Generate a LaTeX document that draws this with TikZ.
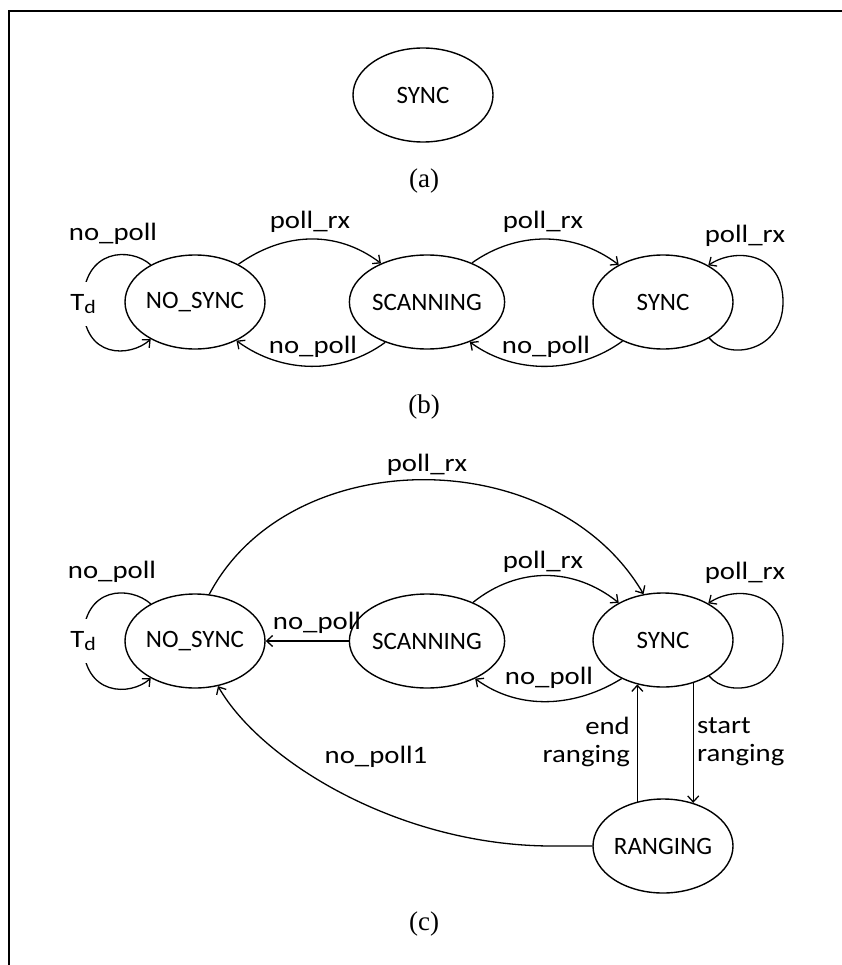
\documentclass[tikz,border=0pt]{standalone}
\usepackage{fontspec}
\setmainfont{Carlito}
\newfontfamily\lblfont{Carlito}[FakeStretch=1.15]
\newfontfamily\capfont{Liberation Serif}
\usetikzlibrary{shapes.geometric,arrows.meta}
\begin{document}
\begin{tikzpicture}[x=1pt,y=-1pt,
 state/.style={draw,ellipse,line width=1.4pt,minimum width=140pt,minimum height=94pt,inner sep=0pt,font=\fontsize{25}{25}\selectfont},
 lbl/.style={font=\lblfont\fontsize{25}{28}\selectfont,inner sep=1pt},
 tdl/.style={fill=white,font=\lblfont\fontsize{25}{28}\selectfont,minimum height=44pt,inner xsep=1pt,inner ysep=0pt},
 capt/.style={font=\capfont\fontsize{27}{27}\selectfont},
 tr/.style={line width=1.3pt,-{Straight Barb[length=6pt,width=11pt]}}]
\useasboundingbox (0,0) rectangle (842,965);
\draw[line width=1.5pt] (9,965) -- (9,11) -- (842,11);
% (a)
\node[state] (sa) at (423,95) {SYNC};
\node[capt] (ca) at (424,181) {(a)};
% (b)
\node[state] (nb) at (195,302) {NO\_SYNC};
\node[state] (scb) at (427,302) {SCANNING};
\node[state] (syb) at (663,302) {SYNC};
\draw[tr] (nb.41) .. controls +(45,-32) and +(-45,-34) .. (scb.140);
\draw[tr] (scb.41) .. controls +(45,-32) and +(-45,-34) .. (syb.140);
\draw[tr] (scb.224) .. controls +(-45,33) and +(45,33) .. (nb.317);
\draw[tr] (syb.224) .. controls +(-45,33) and +(45,33) .. (scb.317);
\coordinate (tdb) at (83,304);
\draw[tr] (nb.140) .. controls +(-20,-18) and +(0,-56) .. (tdb) .. controls +(0,56) and +(-20,18) .. (nb.220);
\node[tdl] (tdbl) at (tdb) {T\raisebox{-0.3ex}{\fontsize{19}{19}\selectfont d}};
\coordinate (syrb) at (783,302);
\draw[tr] (syb.322) .. controls +(19,23) and +(0,50) .. (syrb) .. controls +(0,-50) and +(27,-18) .. (syb.39);
\node[lbl] (lb1) at (113,234) {no\_poll};
\node[lbl] (lb2) at (310,222) {poll\_rx};
\node[lbl] (lb3) at (543,222) {poll\_rx};
\node[lbl] (lb4) at (745,236) {poll\_rx};
\node[lbl] (lb5) at (313,347) {no\_poll};
\node[lbl] (lb6) at (546,347) {no\_poll};
\node[capt] (cb) at (424,407) {(b)};
% (c)
\node[state] (nc) at (195,641) {NO\_SYNC};
\node[state] (scc) at (427,641) {SCANNING};
\node[state] (syc) at (663,640) {SYNC};
\node[state] (rgc) at (663,846) {RANGING};
\draw[tr] (nc.73) .. controls +(80,-152) and +(-90,-153) .. (syc.113);
\draw[tr] (scc.40) .. controls +(45,-36) and +(-45,-36) .. (syc.140);
\draw[tr] (syc.223) .. controls +(-45,28) and +(45,33) .. (scc.322);
\draw[tr] (scc.west) -- (nc.east);
\coordinate (tdc) at (83,641);
\draw[tr] (nc.140) .. controls +(-20,-18) and +(0,-56) .. (tdc) .. controls +(0,56) and +(-20,18) .. (nc.220);
\node[tdl] (tdcl) at (tdc) {T\raisebox{-0.3ex}{\fontsize{19}{19}\selectfont d}};
\coordinate (syrc) at (783,640);
\draw[tr] (syc.322) .. controls +(19,23) and +(0,50) .. (syrc) .. controls +(0,-50) and +(27,-18) .. (syc.39);
\draw[tr] (rgc.120) -- (syc.240);
\draw[tr] (syc.305) -- (rgc.55);
\draw[tr] (rgc.west) -- ++(-40,0) .. controls +(-153,0) and +(43,75) .. (nc.297);
\node[lbl] (lc1) at (427,465) {poll\_rx};
\node[lbl] (lc2) at (543,562) {poll\_rx};
\node[lbl] (lc3) at (112,572) {no\_poll};
\node[lbl] (lc4) at (745,573) {poll\_rx};
\node[lbl] (lc5) at (317,623) {no\_poll};
\node[lbl] (lc6) at (549,678) {no\_poll};
\node[lbl,align=right,anchor=east] (lc7) at (631,742) {end\\ranging};
\node[lbl,align=left,anchor=west] (lc8) at (696,742) {start\\ranging};
\node[lbl] (lc9) at (376,757) {no\_poll1};
\node[capt] (cc) at (424,924) {(c)};
\end{tikzpicture}
\end{document}
